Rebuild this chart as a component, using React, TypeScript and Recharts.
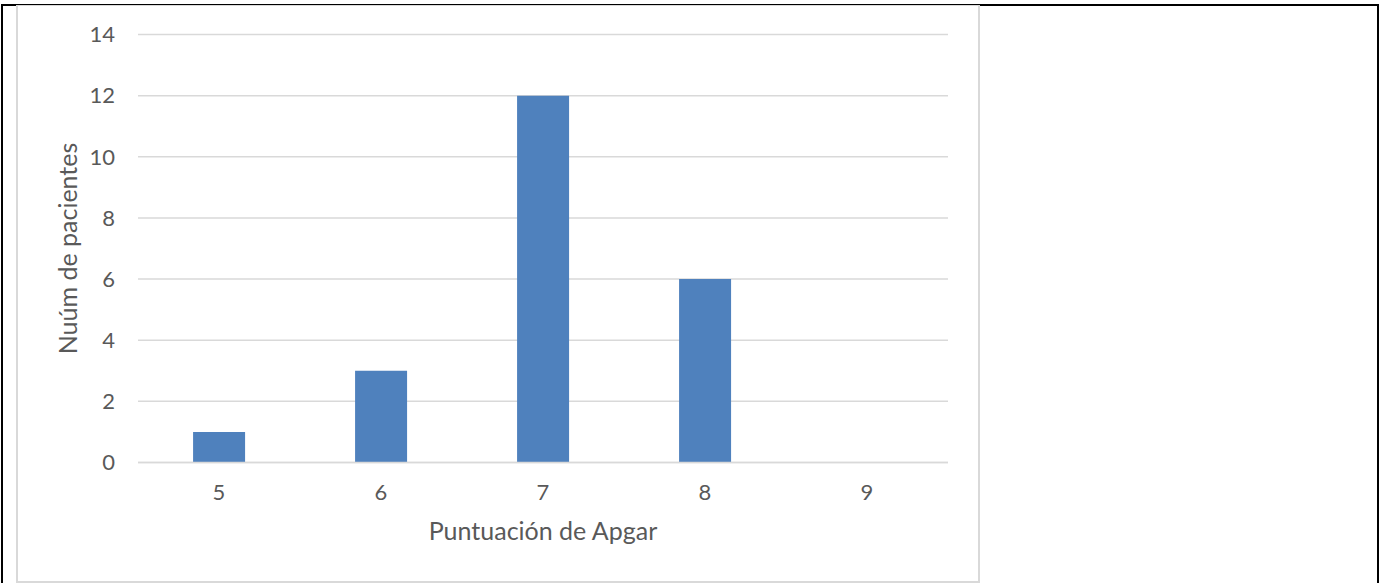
import React from "react";
import { BarChart, Bar, XAxis, YAxis, CartesianGrid, Label } from "recharts";

// Apgar score distribution
const scores = ["5", "6", "7", "8", "9"];
const patients = [1, 3, 12, 6, 0];
const yTicks = [0, 2, 4, 6, 8, 10, 12, 14];

const data = scores.map((s, i) => ({ score: s, patients: patients[i] }));

const FONT = "Lato, 'Open Sans', sans-serif";
const TEXT = "#595959";

export default function App() {
  return (
    <div
      style={{
        position: "absolute",
        left: 0,
        top: 0,
        width: 1382,
        height: 583,
        background: "#fff",
        overflow: "hidden",
      }}
    >
      {/* table cell borders */}
      <div style={{ position: "absolute", left: 1, top: 4, width: 1378, height: 2, background: "#000" }} />
      <div style={{ position: "absolute", left: 1, top: 4, width: 2, height: 600, background: "#000" }} />
      <div style={{ position: "absolute", left: 1377, top: 4, width: 2, height: 600, background: "#000" }} />

      {/* chart frame */}
      <div
        style={{
          position: "absolute",
          left: 16,
          top: 5,
          width: 960,
          height: 575,
          border: "2px solid #d9d9d9",
          borderTop: "1px solid #d9d9d9",
          boxSizing: "content-box",
        }}
      />

      <div style={{ position: "absolute", left: 17, top: 5 }}>
        <BarChart
          width={962}
          height={577}
          data={data}
          margin={{ top: 29.5, right: 31, bottom: 0, left: 0 }}
          barCategoryGap="34%"
        >
          <CartesianGrid vertical={false} stroke="#d9d9d9" strokeWidth={1.5} />
          <XAxis
            dataKey="score"
            axisLine={{ stroke: "#d9d9d9", strokeWidth: 1.5 }}
            tickLine={false}
            tickSize={0}
            tickMargin={22}
            height={119.5}
            tick={{ fill: TEXT, fontSize: 22, fontFamily: FONT }}
          >
            <Label
              value="Puntuación de Apgar"
              position="insideBottom"
              offset={42}
              style={{ fill: TEXT, fontSize: 25, fontFamily: FONT }}
            />
          </XAxis>
          <YAxis
            domain={[0, 14]}
            ticks={yTicks}
            axisLine={false}
            tickLine={false}
            tickSize={0}
            tickMargin={23}
            width={121}
            tick={{ fill: TEXT, fontSize: 22, fontFamily: FONT }}
          >
            <Label
              value="Nuúm de pacientes"
              angle={-90}
              position="insideLeft"
              offset={51}
              style={{ fill: TEXT, fontSize: 25, fontFamily: FONT, textAnchor: "middle" }}
            />
          </YAxis>
          <Bar dataKey="patients" fill="#4f81bd" isAnimationActive={false} />
        </BarChart>
      </div>
    </div>
  );
}
